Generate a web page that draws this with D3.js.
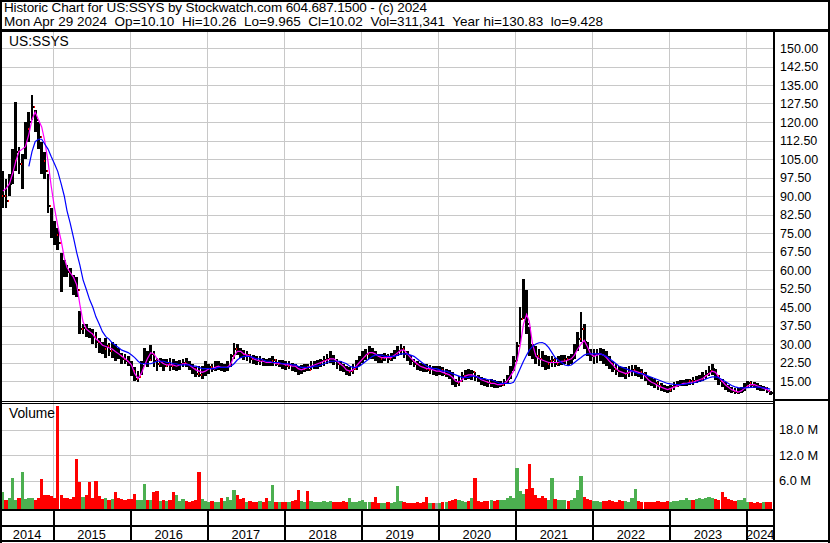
<!DOCTYPE html>
<html>
<head>
<meta charset="utf-8">
<script src="https://cdn.jsdelivr.net/npm/d3@7"></script>
<style>
  body { margin: 0; background: #fff; }
  svg { display: block; font-family: "Liberation Sans", Arial, sans-serif; }
  text { white-space: pre; }
</style>
</head>
<body>
<svg id="chart"></svg>
<script>
var width = 830;
var height = 543;

// header text
var titleLine = "Historic Chart for US:SSYS by Stockwatch.com 604.687.1500 - (c) 2024";
var quoteLine = "Mon Apr 29 2024  Op=10.10  Hi=10.26  Lo=9.965  Cl=10.02  Vol=311,341  Year hi=130.83  lo=9.428";
var symbol = "US:SSYS";

// axis ticks
var priceTicks = [15, 22.5, 30, 37.5, 45, 52.5, 60, 67.5, 75, 82.5, 90, 97.5, 105, 112.5, 120, 127.5, 135, 142.5, 150];
var volTicks = [6, 12, 18];           // millions
var yearLabels = ["2014", "2015", "2016", "2017", "2018", "2019", "2020", "2021", "2022", "2023", "2024"];

// half-month bars, May 2014 .. Apr 2024 (one row per year)
var hi = [
  100, 97, 99, 109, 128, 110, 107, 120, 124, 130.8, 125, 120, 112, 108, 99, 85,
  80, 77, 67, 64, 62, 61, 58, 57, 43.5, 38, 38, 36.5, 36, 35, 32.5, 31, 32.5, 30.5, 31, 30, 28.5, 26.5, 26, 25,
  23, 20.5, 19, 23, 28.5, 27, 29.5, 27, 24.5, 24.5, 24, 24, 24.5, 24, 23, 23.5, 24, 24.5, 23, 22, 20.5, 21, 21, 23,
  22, 22, 23, 23, 22.5, 22, 23, 26, 30.5, 30, 28.5, 27.5, 27, 26, 25.5, 25, 25, 24.5, 24, 24.5, 25, 24, 23.5, 23.5,
  23, 23, 22.5, 22, 21, 21.5, 22, 22, 23, 23, 23.5, 24, 25, 26, 27, 25.5, 24, 23, 22, 21, 20.5, 22, 23.5, 25,
  27, 28, 29, 28.5, 27, 26, 26, 26.5, 26, 26.5, 27.5, 29, 30, 29, 27, 25.5, 24, 23, 22.5, 22, 22, 21.5, 21, 21,
  21, 20.5, 20, 19.5, 18.5, 16, 17, 18.5, 19.5, 20, 19.5, 18.5, 17.5, 16.5, 16, 15.5, 16, 15.5, 15, 15, 16, 17.5, 21, 25,
  31, 45, 56.5, 52, 37, 30, 29, 28, 27, 25.5, 25, 25, 24.5, 25, 25.5, 25.5, 25, 26, 30, 35, 43, 38, 31, 28,
  28, 28, 28.5, 28, 27, 25, 23, 22, 21, 20.5, 20.5, 21, 21.5, 21.5, 20.5, 20, 18.5, 17, 16.5, 16, 15, 14, 13.5, 13,
  13.5, 14.5, 15, 15.5, 15.5, 16, 16, 16.5, 17, 17.5, 18.5, 19.5, 21, 22, 20, 17.5, 16, 14.5, 13.5, 12.5, 12, 12, 12.5, 14,
  15, 15, 14.5, 14, 13.5, 13, 12.5, 11
];
var lo = [
  85, 85, 90, 95, 100, 99, 93, 105, 112, 121, 116, 109, 99, 97, 83, 73,
  70, 68, 51, 57, 57, 53, 50, 49, 34, 34, 33, 32.5, 30, 28.5, 26.5, 26, 24.5, 25, 24.5, 23, 24, 22, 22, 21,
  17, 15, 14.5, 17.5, 22, 20.5, 23, 20.5, 19, 20.5, 19, 20.5, 19, 19.5, 19, 19.5, 20.5, 20.5, 19.5, 18, 16.5, 16.5, 16, 17,
  18, 18.5, 19, 19.5, 19, 18.5, 19, 20.5, 24, 25.5, 24.5, 23.5, 23, 22.5, 22, 21.5, 21.5, 21, 21, 21, 21, 21, 20.5, 20,
  19.5, 20, 19, 18.5, 17.5, 18, 18.5, 19, 19.5, 20, 20, 20.5, 21, 22, 22.5, 21.5, 20, 19, 18.5, 17.5, 17, 18, 19.5, 21,
  22.5, 23.5, 24, 24, 23, 22.5, 22.5, 23, 22.5, 23, 24, 25, 25.5, 24.5, 23, 21.5, 20.5, 19.5, 19, 18.5, 18.5, 18, 17.5, 17,
  17.5, 17, 16.5, 16, 13.5, 12.5, 13, 14.5, 15.5, 16, 15.5, 15, 14.5, 13.5, 13, 12.5, 12.5, 12, 12, 12.5, 13, 14, 16, 19,
  23, 30, 40, 34, 25, 24, 22, 21, 20.5, 19.5, 20, 20.5, 20.5, 21, 21.5, 22, 21.5, 22, 24, 27, 31, 28, 25, 23,
  22, 22.5, 23, 22, 21, 20, 18.5, 17.5, 16.5, 16.5, 16, 16.5, 17, 17, 16.5, 16, 15, 13.5, 13, 12, 11.5, 11, 10.5, 10,
  10.5, 11.5, 12.5, 13, 13, 13, 13.5, 13.5, 14, 14.5, 15, 16, 17, 17.5, 15.5, 13.5, 12.5, 11.5, 10.5, 10, 9.8, 9.8, 10, 11,
  12, 12, 12, 11.5, 11, 11, 10, 9.4
];
var cl = [
  90, 88, 95, 104, 108, 103, 106, 117, 120, 126, 121, 114, 104, 100, 86, 78,
  74, 71, 61, 60, 59, 56, 54, 52, 36, 36.5, 35, 34, 33, 31, 30, 28, 29, 27, 28, 26, 25, 24, 23, 22.5,
  19, 16, 16.5, 21, 24, 23.5, 26, 23, 22, 22.5, 21, 22, 21, 20.5, 21, 22, 22.5, 22, 21, 20, 18, 17.5, 18, 20,
  20.5, 20, 21, 21.5, 20, 20.5, 21, 25, 28, 27, 26, 25, 25.5, 24, 23.5, 23, 23.5, 23, 22, 23, 23.5, 22, 22.5, 21.5,
  21, 21.5, 21, 20, 19, 20, 20.5, 19.5, 21, 22, 22.5, 23, 23.5, 24, 24.5, 23, 22, 21, 20, 18.5, 19, 20, 22, 24,
  25, 26, 27, 26, 25, 24, 24.5, 25, 24, 25, 26, 27, 28, 26, 25, 23, 22, 21, 20.5, 20, 19.5, 19.8, 19, 19,
  19.5, 18, 18.2, 17, 15, 14, 15, 17, 18, 17.5, 18.5, 16.5, 16, 15, 14.5, 14, 14.2, 13.5, 13, 13.5, 14.5, 16, 20, 23,
  29, 40, 50, 38, 28, 26, 25, 24, 23, 22, 23, 23.5, 22, 23, 23.5, 24, 23, 24, 28, 32, 36, 31, 27, 25,
  25.5, 26, 26.5, 25, 24, 22, 20, 19, 18.5, 18, 18.3, 19, 19.5, 20, 18.5, 18, 16.5, 15, 14.5, 14, 13, 12.5, 12, 11.5,
  12.5, 13.5, 14, 14.3, 14.5, 14.8, 15, 14.8, 15.5, 16, 17, 18, 19, 20, 17, 15, 14, 13, 12, 11, 10.5, 10.8, 11, 13,
  14, 13.5, 13, 12.5, 12, 12.2, 11, 10
];

// moving averages as drawn (magenta short, blue long)
var maShort = [
  92, 93, 95, 99, 104, 108, 109, 110, 115, 121, 124, 121, 118, 112, 104, 94,
  85, 78, 72, 65, 61, 59, 57, 54, 46, 39, 36, 35, 34, 32, 31, 29.5, 29, 28.5, 28, 27, 26, 25, 24, 23,
  21.5, 18, 16, 18, 21, 24, 26.5, 26, 24, 23, 22, 21.5, 21.5, 21.5, 21, 21.5, 22, 22, 21.5, 20.5, 19.5, 19, 18.5, 19,
  20, 20, 20.5, 21, 20.5, 20.5, 20.5, 22, 25, 27, 27, 26, 25.5, 25, 24, 23.5, 23, 23, 22.5, 22.5, 22.5, 22, 22, 22,
  21.5, 21.5, 21, 21, 20, 19.5, 20, 20.5, 21, 21.5, 22, 22.5, 23, 23.5, 24, 24, 23, 22, 21, 19.5, 19, 19.5, 21, 22.5,
  24, 25.5, 26.5, 26.5, 26, 25, 24.5, 24.5, 24.5, 24.5, 25.5, 26.5, 27.5, 27.5, 26, 24.5, 23, 22, 21, 20.5, 20, 20, 19.5, 19,
  19, 18.5, 18, 17.5, 16.5, 15, 14.5, 15.5, 17, 17.5, 17.5, 17, 16.5, 15.5, 15, 14.5, 14, 14, 13.5, 13.5, 14, 15, 17, 19,
  23, 29, 38, 42, 39, 30, 25, 24, 23.5, 23, 22.5, 22.5, 22.5, 22.5, 23, 23, 23.5, 24, 25.5, 28, 30, 31.5, 29, 26,
  25, 25.5, 26, 25.5, 24.5, 23, 21.5, 20, 19, 18.5, 18, 18.5, 19, 19, 18.5, 18, 17, 15.5, 14.5, 14, 13, 12.5, 12, 11.5,
  12, 12.5, 13, 13.5, 14, 14, 14.5, 14.5, 15, 15.5, 16, 17, 18, 19, 18.5, 16.5, 15, 13.5, 12.5, 11.5, 11, 10.5, 11, 12,
  13, 13.5, 13.5, 13, 12.5, 12, 11.5, 10.5
];
var maLong = [
  null, null, null, null, null, null, null, null, 102, 108, 112, 113, 113, 111, 109, 106,
  103, 100, 95, 90, 84, 79, 73, 67, 62, 56, 52, 48, 45, 41, 38, 35, 33, 32, 30.5, 29.5, 28.5, 27.5, 27, 26.5,
  25.5, 24.5, 23, 22, 22, 22, 22, 22.5, 23, 23, 23, 22.5, 22.5, 22, 22, 21.5, 21.5, 21.5, 21.5, 21, 21, 20.5, 20, 20,
  20, 20, 20, 20.5, 20.5, 20.5, 20.5, 21, 22, 23.5, 24.5, 25, 25, 25, 24.5, 24, 24, 23.5, 23, 23, 22.5, 22.5, 22.5, 22,
  22, 22, 21.5, 21.5, 21, 20.5, 20.5, 20.5, 20.5, 21, 21, 21.5, 22, 22.5, 23, 23, 23, 23, 22.5, 22, 21, 20.5, 20.5, 21,
  22, 23, 24, 25, 25.5, 25.5, 25.5, 25, 25, 25, 25, 25.5, 26, 26, 26, 25.5, 25, 24, 23, 22, 21, 20.5, 20, 20,
  19.5, 19, 19, 18.5, 18, 17.5, 17, 16.5, 16.5, 16.5, 17, 17, 16.5, 16, 16, 15.5, 15.5, 15, 14.5, 14, 14, 14, 14, 14.5,
  17, 20, 23, 25.5, 27.5, 29, 30, 30.5, 30.6, 30, 28.5, 26.5, 24.5, 23.5, 22.5, 21.5, 21.2, 21.5, 22.5, 23.5, 24.5, 25.5, 26, 26,
  26, 26, 26, 25.5, 25, 24, 23, 22, 21, 20.5, 20, 19.5, 19, 18.5, 18, 18, 17.5, 17, 16.5, 16, 15.5, 15, 14.5, 14,
  13.8, 13.6, 13.5, 13.5, 13.6, 13.8, 14, 14.2, 14.5, 14.8, 15.2, 15.8, 16.3, 16.7, 16.7, 16.3, 15.5, 14.8, 14, 13.2, 12.6, 12.3, 12.2, 12.2,
  12.3, 12.4, 12.5, 12.5, 12.4, 12.2, 12, 11.7
];
// volume, millions
var vol = [
  3.2, 1.5, 1.8, 6.5, 1.5, 1.8, 8.0, 1.6, 1.8, 2.0, 1.5, 1.8, 6.3, 2.5, 2.5, 2.4,
  2.0, 23.6, 2.6, 1.8, 2.0, 1.6, 2.2, 11.1, 5.6, 2.2, 2.5, 5.6, 2.0, 5.8, 2.4, 1.6, 1.8, 1.5, 1.7, 3.3, 1.8, 1.6, 1.5, 1.7,
  1.6, 2.8, 1.5, 1.3, 5.1, 1.5, 1.4, 3.3, 3.5, 1.2, 1.3, 1.1, 1.4, 3.3, 2.6, 1.2, 1.7, 1.2, 1.0, 1.1, 1.3, 7.9, 1.6, 1.2,
  1.0, 1.1, 0.9, 1.0, 1.9, 1.2, 2.2, 1.4, 3.8, 2.5, 1.6, 1.8, 1.0, 1.1, 0.9, 1.0, 1.2, 1.0, 1.8, 1.1, 4.9, 1.0, 0.9, 1.0,
  1.0, 0.9, 1.1, 1.3, 3.7, 1.2, 1.0, 3.5, 1.1, 1.0, 0.9, 1.0, 1.1, 0.9, 1.2, 1.0, 0.9, 1.0, 1.1, 1.0, 1.9, 0.9, 1.0, 1.2,
  1.3, 1.0, 0.9, 1.0, 2.2, 0.8, 0.7, 0.8, 0.9, 0.8, 1.0, 4.7, 1.2, 0.9, 0.8, 0.7, 0.8, 0.9, 0.8, 0.9, 2.2, 0.8, 0.7, 0.8,
  0.8, 0.9, 1.0, 1.2, 1.5, 1.6, 1.3, 1.2, 1.0, 1.2, 1.9, 6.6, 1.2, 1.0, 1.1, 1.2, 1.3, 1.2, 1.4, 1.5, 1.4, 1.8, 2.3, 1.8,
  9.0, 3.5, 2.8, 4.0, 9.9, 4.2, 2.5, 2.0, 2.3, 1.8, 1.5, 6.6, 1.6, 1.4, 1.5, 1.3, 1.2, 1.4, 1.8, 3.8, 7.0, 2.2, 1.6, 1.3,
  1.2, 1.1, 1.0, 1.2, 1.1, 1.3, 1.2, 1.0, 1.5, 1.1, 1.2, 1.0, 2.0, 4.0, 1.2, 1.0, 0.9, 1.0, 0.9, 1.0, 1.1, 0.9, 1.0, 1.1,
  1.0, 1.2, 1.1, 1.4, 1.3, 2.0, 1.5, 1.4, 1.6, 2.0, 1.7, 1.8, 2.1, 1.9, 1.6, 1.5, 3.3, 2.2, 1.6, 1.4, 1.2, 1.5, 1.3, 1.9,
  1.0, 0.9, 0.8, 0.9, 0.8, 0.9, 1.0, 0.9
];

// layout
var plotRight = 774;
var priceTop = 32, priceBottom = 401;
var volTop = 404, volBottom = 509;

var bars = cl.map(function (c, i) {
  return {
    date: new Date(2014, 4 + Math.floor(i / 2), i % 2 ? 23 : 8),
    hi: hi[i], lo: lo[i], cl: c,
    open: i > 0 ? cl[i - 1] : c,
    maS: maShort[i], maL: maLong[i],
    vol: vol[i]
  };
});

var x = d3.scaleTime()
  .domain([new Date(2014, 3, 29), new Date(2024, 3, 29)])
  .range([1, 771.5]);

var y = d3.scaleLinear().domain([15, 150]).range([381, 48]);
var yVol = d3.scaleLinear().domain([0, 24]).range([506, 404]);

var svg = d3.select("#chart").attr("width", width).attr("height", height);

svg.append("rect").attr("width", width).attr("height", height).attr("fill", "#fff");

var years = d3.timeYear.range(new Date(2015, 0, 1), new Date(2024, 1, 1));
var yearEdges = [x.range()[0]].concat(years.map(x)).concat([plotRight]);

// grid
var grid = svg.append("g").attr("stroke", "#c8c8c8").attr("shape-rendering", "crispEdges");
grid.selectAll(".gy").data(priceTicks).enter().append("line")
  .attr("x1", 0).attr("x2", plotRight)
  .attr("y1", function (d) { return Math.round(y(d)) + 0.5; })
  .attr("y2", function (d) { return Math.round(y(d)) + 0.5; });
grid.selectAll(".gv").data(volTicks).enter().append("line")
  .attr("x1", 0).attr("x2", plotRight)
  .attr("y1", function (d) { return Math.round(yVol(d)) + 0.5; })
  .attr("y2", function (d) { return Math.round(yVol(d)) + 0.5; });
grid.selectAll(".gx").data(years).enter().append("line")
  .attr("x1", function (d) { return Math.round(x(d)) + 0.5; })
  .attr("x2", function (d) { return Math.round(x(d)) + 0.5; })
  .attr("y1", priceTop).attr("y2", volBottom);

// price bars
var price = svg.append("g").attr("shape-rendering", "crispEdges");
price.selectAll(".hl").data(bars).enter().append("rect")
  .attr("x", function (d) { return x(d.date) - 1.4; })
  .attr("width", 2.8)
  .attr("y", function (d) { return y(d.hi); })
  .attr("height", function (d) { return Math.max(1, y(d.lo) - y(d.hi)); })
  .attr("fill", "#000");
price.selectAll(".op").data(bars).enter().append("rect")
  .attr("x", function (d) { return x(d.date) - 1.6; })
  .attr("width", 1.4).attr("height", 2)
  .attr("y", function (d) { return y(d.open) - 1; })
  .attr("fill", "#ff0000");
price.selectAll(".cl").data(bars).enter().append("rect")
  .attr("x", function (d) { return x(d.date) + 1.2; })
  .attr("width", 1.2).attr("height", 2)
  .attr("y", function (d) { return y(d.cl) - 1; })
  .attr("fill", "#000");

// moving averages
var lineShort = d3.line()
  .x(function (d) { return x(d.date); })
  .y(function (d) { return y(d.maS); });
var lineLong = d3.line()
  .defined(function (d) { return d.maL != null; })
  .x(function (d) { return x(d.date); })
  .y(function (d) { return y(d.maL); });

svg.append("path").datum(bars).attr("d", lineShort)
  .attr("fill", "none").attr("stroke", "#ff00ff").attr("stroke-width", 1.2);
svg.append("path").datum(bars).attr("d", lineLong)
  .attr("fill", "none").attr("stroke", "#0000ff").attr("stroke-width", 1.2);

// volume
function volColor(d, i) {
  if (i == 0 || d.cl > bars[i - 1].cl) return "#4caf50";
  if (d.cl < bars[i - 1].cl) return "#ff0000";
  return "#a0a0a0";
}
svg.append("g").attr("shape-rendering", "crispEdges")
  .selectAll("rect").data(bars).enter().append("rect")
  .attr("x", function (d) { return x(d.date) - 1.6; })
  .attr("width", 3.2)
  .attr("y", function (d) { return yVol(d.vol); })
  .attr("height", function (d) { return volBottom - yVol(d.vol); })
  .attr("fill", volColor);

// frame
var frame = svg.append("g").attr("stroke", "#000").attr("shape-rendering", "crispEdges");
function hline(y0, x0, x1, w) {
  frame.append("line").attr("x1", x0).attr("x2", x1).attr("y1", y0).attr("y2", y0).attr("stroke-width", w);
}
function vline(x0, y0, y1, w) {
  frame.append("line").attr("x1", x0).attr("x2", x0).attr("y1", y0).attr("y2", y1).attr("stroke-width", w);
}
hline(1, 0, width, 2);
hline(541, 0, width, 2);
vline(1, 0, height, 2);
vline(829, 0, height, 2);
hline(30.5, 0, width, 3);
vline(774, 31, 541, 2);
hline(400, plotRight, width, 2);
hline(401.5, 0, plotRight, 1);
hline(403.5, 0, plotRight, 1);
hline(510, 0, plotRight, 2);
hline(526, 0, plotRight, 2);
years.forEach(function (d) { vline(Math.round(x(d)) + 0.5, 510, 541, 2); });

// texts
var txt = svg.append("g").attr("fill", "#000");
txt.append("text").attr("x", 4).attr("y", 12).attr("font-size", 13.5)
  .attr("textLength", 423).attr("lengthAdjust", "spacing").text(titleLine);
txt.append("text").attr("x", 4).attr("y", 26).attr("font-size", 13.5)
  .attr("textLength", 599).attr("lengthAdjust", "spacing").text(quoteLine);
txt.append("text").attr("x", 9).attr("y", 45.5).attr("font-size", 13.8).text(symbol);
txt.append("text").attr("x", 9).attr("y", 417.5).attr("font-size", 13.8).text("Volume");

txt.selectAll(".pl").data(priceTicks).enter().append("text")
  .attr("x", 780)
  .attr("y", function (d) { return y(d) + 4.5; })
  .attr("font-size", 12.5)
  .text(function (d) { return d3.format(".2f")(d); });

txt.selectAll(".vl").data(volTicks).enter().append("text")
  .attr("x", 779)
  .attr("y", function (d) { return yVol(d) + 4.5; })
  .attr("font-size", 12.8)
  .text(function (d) { return d3.format(".1f")(d) + " M"; });

txt.selectAll(".yl").data(yearLabels).enter().append("text")
  .attr("x", function (d, i) { return (yearEdges[i] + yearEdges[i + 1]) / 2; })
  .attr("y", 539)
  .attr("text-anchor", "middle")
  .attr("font-size", 12.8)
  .text(function (d) { return d; });
</script>
</body>
</html>
